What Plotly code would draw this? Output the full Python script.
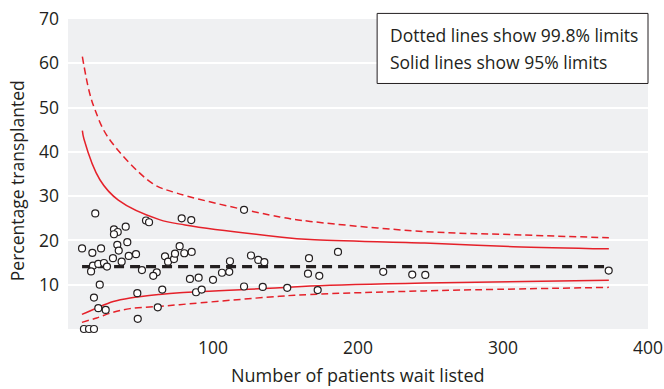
import plotly.graph_objects as go

# ---- data ----
patients_n = [18.8, 31.7, 34.3, 31.7, 39.8, 53.8, 55.9, 78.4, 85.0, 121.4,
              9.7, 16.8, 22.8, 34.0, 35.0, 40.9, 31.0, 37.0, 41.9, 46.9,
              17.2, 20.9, 24.8, 26.9, 15.9, 51.0, 61.2, 58.8, 66.9, 69.0,
              73.1, 73.8, 77.0, 80.2, 85.3, 111.7, 126.2, 131.2, 135.4, 166.2,
              165.5, 84.1, 90.1, 100.0, 106.2, 111.2, 186.2, 173.3, 217.4, 237.4,
              246.4, 372.9, 21.9, 17.9, 47.8, 65.0, 88.3, 92.2, 121.4, 134.3,
              151.2, 172.2, 20.9, 26.0, 61.9, 48.1, 11.0, 14.5, 17.9]
pct_transplanted = [26.1, 22.5, 21.9, 21.4, 23.1, 24.5, 24.1, 25.0, 24.6, 26.9,
                    18.2, 17.2, 18.2, 19.0, 17.7, 19.6, 16.0, 15.2, 16.5, 16.9,
                    14.3, 14.7, 14.9, 14.1, 13.0, 13.3, 12.8, 12.0, 16.4, 15.2,
                    15.8, 17.0, 18.7, 17.1, 17.4, 15.3, 16.6, 15.6, 15.1, 16.0,
                    12.5, 11.3, 11.6, 11.1, 12.7, 12.9, 17.4, 12.0, 12.9, 12.3,
                    12.2, 13.2, 10.0, 7.1, 8.1, 8.9, 8.3, 8.9, 9.6, 9.5,
                    9.3, 8.8, 4.7, 4.3, 4.9, 2.3, 0.0, 0.0, 0.0]

mean_n = [9.7, 371]
mean_pct = [14.1, 14.1]

upper998_n = [9.9, 14.5, 18.4, 27.6, 57.7, 75, 146, 167, 246, 307, 373]
upper998_v = [61.5, 53.8, 49.7, 43.3, 33.0, 30.7, 25.3, 24.3, 22.0, 21.3, 20.6]

upper95_n = [9.9, 11, 22, 34.7, 63, 80.7, 146, 167, 246, 307, 373]
upper95_v = [44.8, 42.9, 33.7, 29.1, 24.7, 23.5, 20.8, 20.2, 19.4, 18.6, 18.1]

lower95_n = [9.6, 19.8, 31.2, 42.8, 63, 77, 146, 167, 246, 373]
lower95_v = [3.3, 4.75, 6.2, 7.0, 7.8, 8.2, 9.3, 9.7, 10.4, 11.0]

lower998_n = [9.6, 19.8, 31.2, 42.8, 63, 77, 146, 167, 246, 373]
lower998_v = [1.5, 2.5, 3.8, 4.6, 5.1, 5.5, 7.4, 7.8, 8.6, 9.4]

x_ticks = [100, 200, 300, 400]
y_ticks = [10, 20, 30, 40, 50, 60, 70]

legend_lines = ["Dotted lines show 99.8% limits", "Solid lines show 95% limits"]

# ---- styling ----
FONT = "Open Sans"
TXT = "#231f20"
RED = "#e5212a"
BG = "#eff0f2"

fig = go.Figure()

for xs, ys, dash in [(upper998_n, upper998_v, "7px,4px"),
                     (lower998_n, lower998_v, "7px,4px"),
                     (upper95_n, upper95_v, "solid"),
                     (lower95_n, lower95_v, "solid")]:
    fig.add_trace(go.Scatter(x=xs, y=ys, mode="lines",
                             line=dict(color=RED, width=1.5, dash=dash, shape="spline", smoothing=1.0),
                             hoverinfo="skip", showlegend=False))

fig.add_trace(go.Scatter(x=mean_n, y=mean_pct, mode="lines",
                         line=dict(color="#231f20", width=3.3, dash="10px,6px"),
                         showlegend=False))

fig.add_trace(go.Scatter(x=patients_n, y=pct_transplanted, mode="markers",
                         marker=dict(symbol="circle", size=7, color="white",
                                     line=dict(color="#231f20", width=1.2)),
                         cliponaxis=False, showlegend=False))

fig.update_layout(
    width=664, height=389, autosize=False,
    margin=dict(l=68, r=16, t=19, b=60),
    paper_bgcolor="white", plot_bgcolor=BG,
    font=dict(family=FONT, color=TXT, size=17),
    xaxis=dict(range=[0, 400], tickvals=x_ticks, showgrid=False, zeroline=False,
               showline=False, ticks="", ticklabelstandoff=6, automargin=False,
               tickfont=dict(family=FONT, size=17.5, color=TXT)),
    yaxis=dict(range=[0, 70], tickvals=y_ticks, showgrid=True, gridcolor="white",
               gridwidth=2, zeroline=False, showline=False, ticks="",
               ticklabelstandoff=8, automargin=False,
               tickfont=dict(family=FONT, size=17.5, color=TXT)),
    showlegend=False,
)

fig.add_annotation(text="Number of patients wait listed", xref="paper", yref="paper",
                   x=0.5, y=-0.148, xanchor="center", yanchor="middle", showarrow=False,
                   font=dict(family=FONT, size=18, color=TXT))
fig.add_annotation(text="Percentage transplanted", xref="paper", yref="paper",
                   x=-0.088, y=0.48, xanchor="center", yanchor="middle", textangle=-90,
                   showarrow=False, font=dict(family=FONT, size=17.5, color=TXT))

fig.add_shape(type="rect", xref="paper", yref="paper", x0=0.533, x1=1.0, y0=0.792, y1=1.018,
              line=dict(color="#231f20", width=1), fillcolor="white", layer="above")
fig.add_annotation(text=legend_lines[0], xref="paper", yref="paper", x=0.552, y=0.947,
                   xanchor="left", yanchor="middle", showarrow=False,
                   font=dict(family=FONT, size=17.5, color=TXT))
fig.add_annotation(text=legend_lines[1], xref="paper", yref="paper", x=0.552, y=0.860,
                   xanchor="left", yanchor="middle", showarrow=False,
                   font=dict(family=FONT, size=17.5, color=TXT))

fig.write_html(
    "out.html",
    config={"displayModeBar": False, "responsive": False},
    post_script=("document.body.style.margin='0';"
                 "document.body.style.overflow='hidden';"
                 "document.documentElement.style.overflow='hidden';"),
)
